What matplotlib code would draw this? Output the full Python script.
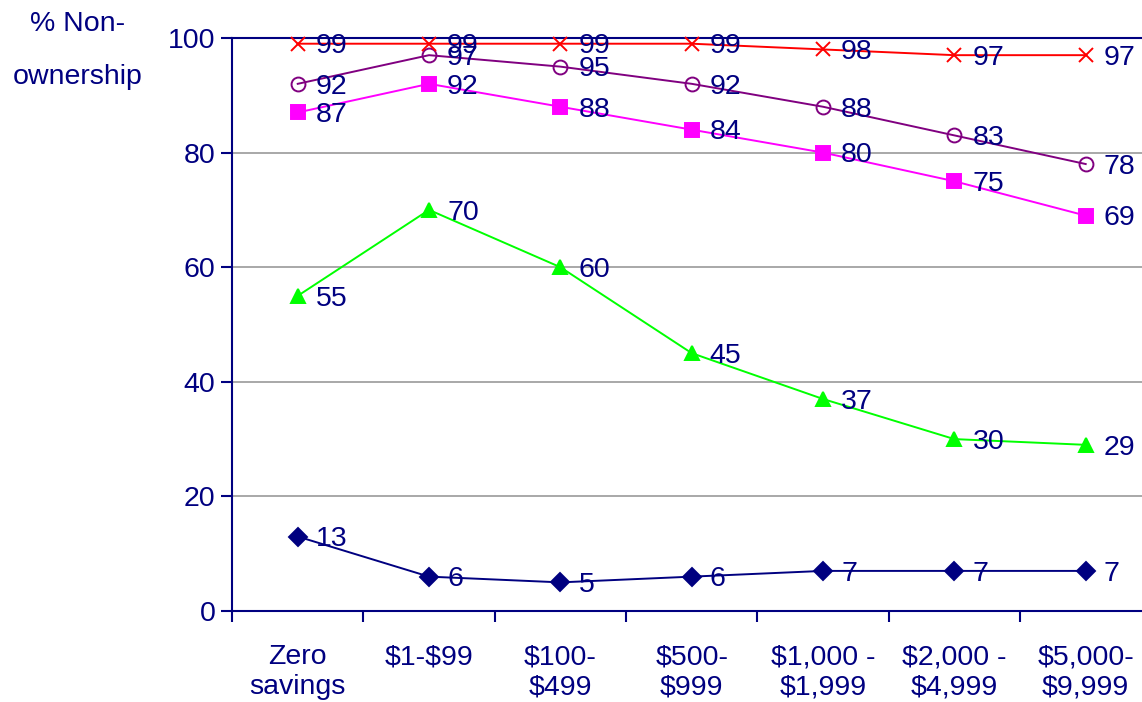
import matplotlib.pyplot as plt
import numpy as np

plt.rcParams['font.family'] = ['Liberation Sans', 'DejaVu Sans']

NAVY = '#000080'

categories = ['Zero\nsavings', r'\$1-\$99', '\\$100-\n\\$499', '\\$500-\n\\$999',
              '\\$1,000 -\n\\$1,999', '\\$2,000 -\n\\$4,999', '\\$5,000-\n\\$9,999']

s_diamond = [13, 6, 5, 6, 7, 7, 7]
s_triangle = [55, 70, 60, 45, 37, 30, 29]
s_square = [87, 92, 88, 84, 80, 75, 69]
s_circle = [92, 97, 95, 92, 88, 83, 78]
s_cross = [99, 99, 99, 99, 98, 97, 97]

series = [
    (s_diamond, NAVY, 'D', 9.5, NAVY),
    (s_triangle, '#00FF00', '^', 10.5, '#00FF00'),
    (s_square, '#FF00FF', 's', 9.5, '#FF00FF'),
    (s_circle, '#800080', 'o', 10, 'none'),
    (s_cross, '#FF0000', 'x', 10, '#FF0000'),
]

FS = 20.5

fig = plt.figure(figsize=(11.42, 7.02), dpi=100)
ax = fig.add_axes([0.2032, 0.1296, 0.805, 0.8163])

x = np.arange(len(categories))
for vals, col, mk, ms, fc in series:
    ax.plot(x, vals, color=col, lw=1.4, marker=mk, markersize=ms,
            markerfacecolor=fc, markeredgecolor=col, markeredgewidth=1.4,
            clip_on=False, zorder=3)
    for xi, v in zip(x, vals):
        ax.annotate(str(v), (xi, v), xytext=(13, -2), textcoords='offset points',
                    ha='left', va='center', fontsize=FS, color=NAVY, zorder=4)

ax.set_xlim(-0.5, 6.5)
ax.set_ylim(0, 100)
ax.set_yticks([0, 20, 40, 60, 80, 100])
ax.yaxis.grid(True, color='#999999', lw=1.2)
ax.set_axisbelow(True)

ax.set_xticks(np.arange(-0.5, 7, 1))
ax.set_xticklabels([])
ax.set_xticks(x, minor=True)
ax.set_xticklabels(categories, minor=True, fontsize=FS, color=NAVY, linespacing=1.2)
ax.tick_params(axis='x', which='minor', length=0, pad=24)
ax.tick_params(axis='x', which='major', length=8, width=1.5, color=NAVY, direction='out')
ax.tick_params(axis='y', length=8, width=1.5, color=NAVY, direction='out',
               labelsize=FS, labelcolor=NAVY, pad=4)

for side in ['left', 'bottom', 'top']:
    ax.spines[side].set_color(NAVY)
    ax.spines[side].set_linewidth(1.5)
ax.spines['right'].set_visible(False)

fig.text(0.068, 0.985, '% Non-\nownership', ha='center', va='top',
         fontsize=FS, color=NAVY, linespacing=2.35)

fig.savefig('out.png', dpi=100)
